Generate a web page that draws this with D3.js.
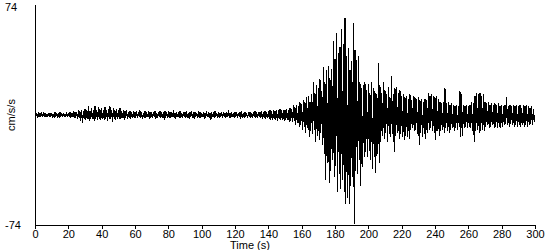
<!DOCTYPE html>
<html><head><meta charset="utf-8">
<script src="https://cdn.jsdelivr.net/npm/d3@7"></script>
<style>
html,body{margin:0;padding:0;background:#fff;}
text{font-family:"Liberation Sans",Arial,sans-serif;font-size:11px;fill:#000;}
</style></head>
<body><svg id="c" width="550" height="250"></svg>
<script>
// Per-second peak excursions read from the record (cm/s/s), t = 0..299 s
const peakHigh = [
1.0,1.5,0.8,1.2,2.0,1.0,1.4,0.9,1.6,1.1,
1.3,0.9,1.8,1.2,1.0,2.2,1.1,1.5,0.9,1.7,
1.5,2.0,1.2,2.6,1.8,2.2,3.0,2.4,3.5,2.8,
4.0,3.2,5.8,2.8,4.5,3.6,6.0,3.0,5.2,3.8,
4.8,3.5,5.5,3.0,4.2,5.8,3.2,4.6,3.0,4.0,
3.2,4.6,2.8,3.5,2.4,3.0,2.2,2.8,1.9,2.5,
2.0,2.6,1.8,3.0,2.2,1.6,2.8,2.0,2.4,1.8,
2.2,1.9,2.6,1.5,2.3,2.9,1.8,2.1,2.5,1.7,
2.4,1.8,2.0,3.0,1.6,2.2,1.9,2.7,1.5,2.1,
1.8,2.5,1.6,2.0,2.8,1.7,2.2,1.5,2.4,1.9,
1.6,2.0,1.4,2.6,1.8,1.5,2.2,1.7,2.9,1.6,
2.0,1.5,2.3,1.8,1.4,2.1,3.2,1.6,1.9,1.5,
1.8,2.2,1.5,1.9,2.6,1.6,2.0,1.5,1.8,2.3,
1.6,2.0,2.8,1.7,2.1,1.9,2.5,2.0,2.8,2.3,
2.8,3.2,2.5,3.6,2.9,3.4,3.0,3.8,3.2,3.6,
3.5,4.2,3.6,5.0,4.0,6.5,5.2,7.0,6.0,8.5,
7.5,10,8.5,12,13,9,14,22,15,20,
18,24,16,32,22,30,33,25,31,50,
38,55,42,46,58,48,65,40,45,30,
36,62,44,37,40,22,18,20,22,17,
21,15,22,18,16,14,35,20,15,22,
17,14,19,12,26,14,18,19,15,17,
13,14,12,13,11,14,10,13,12,11,
12,10,11,9,11,10,15,13,14,13,
12,13,11,9,8,9,18,8,9,7,
8,7,6,7,6,16,14,7,6,7,
6,7,9,8,13,15,14,15,13,14,
9,8,9,7,8,7,8,7,8,6,
7,6,7,12,6,7,6,7,6,7,
6,7,5,7,6,7,6,5,6,4
];
const peakLow = [
-1.2,-0.8,-1.5,-1.0,-1.3,-0.9,-1.6,-1.1,-0.8,-1.4,
-1.0,-1.7,-1.1,-0.9,-1.9,-1.2,-1.0,-1.5,-1.3,-1.1,
-1.4,-2.0,-1.6,-2.2,-1.8,-2.5,-2.0,-3.8,-5.4,-3.0,
-3.5,-2.8,-4.2,-3.0,-2.6,-3.8,-2.9,-3.4,-2.5,-3.6,
-2.8,-3.2,-2.5,-3.9,-2.7,-3.0,-4.4,-2.6,-3.3,-2.4,
-2.6,-3.0,-2.2,-3.5,-2.0,-2.4,-1.8,-2.6,-1.9,-2.2,
-1.8,-2.2,-1.5,-2.0,-2.8,-1.7,-2.1,-1.6,-2.4,-1.9,
-2.0,-1.6,-2.5,-1.8,-1.5,-2.2,-2.0,-3.2,-1.7,-2.1,
-1.8,-2.3,-1.6,-2.0,-2.6,-1.5,-2.2,-1.8,-2.0,-1.6,
-2.1,-1.7,-2.4,-1.6,-1.9,-2.8,-1.5,-2.0,-1.8,-2.3,
-1.5,-2.4,-1.8,-1.4,-2.0,-3.6,-1.6,-1.9,-1.5,-2.2,
-1.7,-1.5,-2.0,-1.6,-2.3,-1.5,-1.8,-2.1,-1.4,-1.9,
-1.6,-2.0,-1.5,-2.6,-1.7,-1.9,-1.5,-2.2,-1.6,-1.8,
-2.0,-1.5,-1.8,-2.2,-1.6,-2.0,-2.4,-1.9,-2.5,-2.1,
-2.6,-3.0,-3.5,-2.8,-3.2,-4.0,-2.9,-3.4,-3.0,-3.8,
-3.6,-3.2,-4.5,-3.8,-5.0,-4.2,-6.5,-5.5,-8.0,-7.0,
-10,-8,-12,-9,-15,-11,-13,-10,-18,-14,
-17,-12,-20,-26,-44,-32,-46,-38,-30,-42,
-34,-52,-40,-50,-44,-52,-60,-56,-60,-48,
-42,-73,-38,-40,-30,-48,-35,-28,-25,-28,
-24,-30,-36,-28,-39,-26,-32,-18,-14,-16,
-12,-18,-13,-15,-13,-25,-14,-12,-16,-13,
-15,-17,-14,-15,-16,-10,-9,-11,-10,-13,
-20,-12,-15,-13,-16,-12,-10,-9,-11,-12,
-17,-11,-14,-11,-10,-12,-9,-11,-12,-10,
-9,-11,-9,-10,-8,-15,-14,-9,-8,-9,
-8,-9,-11,-18,-11,-10,-12,-11,-10,-11,
-8,-7,-9,-8,-7,-9,-8,-9,-8,-9,
-8,-7,-6,-7,-8,-6,-7,-8,-7,-8,
-7,-8,-7,-8,-7,-8,-7,-6,-7,-5
];
const xTicks = d3.range(0, 301, 20);
const yLabels = ["74", "-74"];

// build the time series: high excursion at t, low excursion at t+0.5
const series = [];
peakHigh.forEach((h, i) => {
  series.push({t: i, v: h});
  series.push({t: i + 0.5, v: peakLow[i]});
});
series.push({t: 300, v: 0});

const svg = d3.select("#c");
const x = d3.scaleLinear().domain([0, 300]).range([35, 535]);
const y = d3.scaleLinear().domain([-74, 74]).range([225, 5]);

svg.append("path")
  .datum(series)
  .attr("fill", "none")
  .attr("stroke", "#000")
  .attr("stroke-width", 1)
  .attr("shape-rendering", "crispEdges")
  .attr("d", d3.line().x(d => x(d.t)).y(d => y(d.v)));

// y axis line
svg.append("line").attr("x1", 35.5).attr("x2", 35.5).attr("y1", 5).attr("y2", 225)
  .attr("stroke", "#000").attr("shape-rendering", "crispEdges");

// x axis
const xAxis = d3.axisBottom(x).tickValues(xTicks).tickSize(4).tickSizeOuter(0).tickFormat(d3.format("d"));
const gx = svg.append("g").attr("transform", "translate(0,225)").call(xAxis);
gx.select(".domain").attr("stroke", "#000").attr("shape-rendering", "crispEdges");
gx.selectAll(".tick line").attr("stroke", "#000").attr("shape-rendering", "crispEdges");
gx.selectAll(".tick text").attr("font-size", null).attr("font-family", null).attr("dy", null).attr("y", 13);
gx.attr("font-size", null).attr("font-family", null);

svg.append("text").attr("x", 5).attr("y", 11).text(yLabels[0]);
svg.append("text").attr("x", 5).attr("y", 229).text(yLabels[1]);

svg.append("text").attr("x", 250).attr("y", 249).attr("text-anchor", "middle").text("Time (s)");
svg.append("text").attr("transform", "translate(15,115) rotate(-90)").attr("text-anchor", "middle").text("cm/s/s");
</script></body></html>
